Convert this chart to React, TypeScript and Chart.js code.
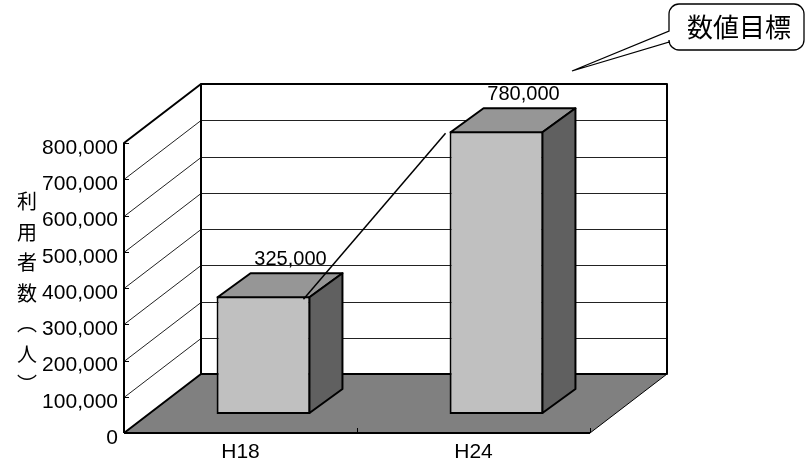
import { useEffect, useRef } from "react";
import { Chart, registerables } from "chart.js";

Chart.register(...registerables);

// ---- data ----
const categories = ["H18", "H24"];
const users = [325000, 780000];
const valueLabels = ["325,000", "780,000"];
const yTickValues = [0, 100000, 200000, 300000, 400000, 500000, 600000, 700000, 800000];
const yTitleChars = ["利", "用", "者", "数", "︵", "人", "︶"];
const calloutText = "数値目標";

// ---- 3D geometry / style ----
const WALL_DX = 77;
const WALL_DY = -59;
const BAR_OX = 23;
const BAR_OY = -19;
const BAR_DX = 33;
const BAR_DY = -24;
const NUM_FONT = '"Liberation Sans", Arial, sans-serif';
const CJK_FONT = '"Noto Sans CJK JP", "Noto Sans CJK SC", sans-serif';

const threeDPlugin = {
  id: "threeD",
  beforeDatasetsDraw(chart: any) {
    const { ctx, chartArea: ca, scales } = chart;
    const ys = scales.y;
    const L = ca.left;
    const R = ca.right;
    const y0 = ys.getPixelForValue(yTickValues[0]);
    const yT = ys.getPixelForValue(yTickValues[yTickValues.length - 1]);
    ctx.save();
    ctx.lineJoin = "round";
    // floor
    ctx.beginPath();
    ctx.moveTo(L, y0);
    ctx.lineTo(R, y0);
    ctx.lineTo(R + WALL_DX, y0 + WALL_DY);
    ctx.lineTo(L + WALL_DX, y0 + WALL_DY);
    ctx.closePath();
    ctx.fillStyle = "#808080";
    ctx.fill();
    ctx.strokeStyle = "#000";
    ctx.lineWidth = 1;
    ctx.stroke();
    // back wall
    ctx.fillStyle = "#fff";
    ctx.fillRect(L + WALL_DX, yT + WALL_DY, R - L, y0 - yT);
    // left wall
    ctx.beginPath();
    ctx.moveTo(L, y0);
    ctx.lineTo(L, yT);
    ctx.lineTo(L + WALL_DX, yT + WALL_DY);
    ctx.lineTo(L + WALL_DX, y0 + WALL_DY);
    ctx.closePath();
    ctx.fill();
    // gridlines
    ctx.lineWidth = 1;
    ctx.strokeStyle = "#222";
    yTickValues.slice(1, -1).forEach((v) => {
      const py = Math.round(ys.getPixelForValue(v)) + 0.5;
      ctx.beginPath();
      ctx.moveTo(L, py);
      ctx.lineTo(L + WALL_DX, py + WALL_DY);
      ctx.lineTo(R + WALL_DX, py + WALL_DY);
      ctx.stroke();
    });
    // y ticks (inward)
    ctx.strokeStyle = "#000";
    yTickValues.forEach((v) => {
      const py = Math.round(ys.getPixelForValue(v)) + 0.5;
      ctx.beginPath();
      ctx.moveTo(L, py);
      ctx.lineTo(L + 5, py);
      ctx.stroke();
    });
    // x ticks (upward)
    const xs = scales.x;
    const bounds = [L, (xs.getPixelForValue(0) + xs.getPixelForValue(1)) / 2, R];
    bounds.forEach((bx) => {
      ctx.beginPath();
      ctx.moveTo(Math.round(bx) + 0.5, y0);
      ctx.lineTo(Math.round(bx) + 0.5, y0 - 5);
      ctx.stroke();
    });
    // outlines
    ctx.lineWidth = 2;
    ctx.strokeStyle = "#000";
    ctx.strokeRect(L + WALL_DX, yT + WALL_DY, R - L, y0 - yT);
    ctx.beginPath();
    ctx.moveTo(L, y0);
    ctx.lineTo(L, yT);
    ctx.lineTo(L + WALL_DX, yT + WALL_DY);
    ctx.moveTo(L, y0);
    ctx.lineTo(L + WALL_DX, y0 + WALL_DY);
    ctx.moveTo(L, y0);
    ctx.lineTo(R, y0);
    ctx.stroke();
    ctx.restore();
    // shift bars into depth
    ctx.save();
    ctx.translate(BAR_OX, BAR_OY);
  },
  afterDatasetsDraw(chart: any) {
    const { ctx } = chart;
    const meta = chart.getDatasetMeta(0);
    const geo: any[] = [];
    ctx.lineJoin = "round";
    meta.data.forEach((bar: any, i: number) => {
      const p = bar.getProps(["x", "y", "base", "width"], true);
      const l = p.x - p.width / 2 + 1;
      const r = p.x + p.width / 2 - 1;
      const t = p.y + 1;
      const b = p.base - 1;
      // top face
      ctx.beginPath();
      ctx.moveTo(l, t);
      ctx.lineTo(r, t);
      ctx.lineTo(r + BAR_DX, t + BAR_DY);
      ctx.lineTo(l + BAR_DX, t + BAR_DY);
      ctx.closePath();
      ctx.fillStyle = "#969696";
      ctx.fill();
      ctx.lineWidth = 2;
      ctx.strokeStyle = "#000";
      ctx.stroke();
      // side face
      ctx.beginPath();
      ctx.moveTo(r, t);
      ctx.lineTo(r + BAR_DX, t + BAR_DY);
      ctx.lineTo(r + BAR_DX, b + BAR_DY);
      ctx.lineTo(r, b);
      ctx.closePath();
      ctx.fillStyle = "#606060";
      ctx.fill();
      ctx.stroke();
      geo.push({ l, r, t, x: p.x });
      // value label
      ctx.fillStyle = "#000";
      ctx.font = `20px ${NUM_FONT}`;
      ctx.textAlign = "center";
      ctx.textBaseline = "alphabetic";
      ctx.fillText(valueLabels[i], p.x + 27, t + BAR_DY - 8);
    });
    // connector line from first to second bar
    if (geo.length > 1) {
      ctx.beginPath();
      ctx.moveTo(geo[0].r - 6, geo[0].t + 2);
      ctx.lineTo(geo[1].l - 5, geo[1].t + 1);
      ctx.lineWidth = 1.5;
      ctx.strokeStyle = "#000";
      ctx.stroke();
    }
    ctx.restore();
  },
  afterDraw(chart: any) {
    const { ctx, chartArea: ca } = chart;
    ctx.save();
    // vertical y-axis title
    ctx.fillStyle = "#000";
    ctx.font = `20px ${CJK_FONT}`;
    ctx.textAlign = "center";
    ctx.textBaseline = "middle";
    const mid = (ca.top + ca.bottom) / 2 + 5;
    const step = 30.5;
    yTitleChars.forEach((c, i) => {
      ctx.fillText(c, 27, mid + (i - (yTitleChars.length - 1) / 2) * step);
    });
    // callout
    const x0 = 669, y0 = 4, x1 = 804, y1 = 50, r = 10;
    ctx.beginPath();
    ctx.moveTo(x0 + r, y0);
    ctx.lineTo(x1 - r, y0);
    ctx.arcTo(x1, y0, x1, y0 + r, r);
    ctx.lineTo(x1, y1 - r);
    ctx.arcTo(x1, y1, x1 - r, y1, r);
    ctx.lineTo(x0 + r, y1);
    ctx.arcTo(x0, y1, x0, y1 - r, r);
    ctx.lineTo(x0, 42);
    ctx.lineTo(572, 71);
    ctx.lineTo(x0, 31);
    ctx.lineTo(x0, y0 + r);
    ctx.arcTo(x0, y0, x0 + r, y0, r);
    ctx.closePath();
    ctx.fillStyle = "#fff";
    ctx.fill();
    ctx.lineWidth = 1.3;
    ctx.strokeStyle = "#000";
    ctx.stroke();
    ctx.fillStyle = "#000";
    ctx.font = `26px ${CJK_FONT}`;
    ctx.fillText(calloutText, 739, 27);
    ctx.restore();
  },
};

export default function App() {
  const canvasRef = useRef<HTMLCanvasElement | null>(null);

  useEffect(() => {
    document.body.style.margin = "0";
    const canvas = canvasRef.current;
    if (!canvas) return;
    const chart = new Chart(canvas, {
      type: "bar",
      data: {
        labels: categories,
        datasets: [
          {
            label: "利用者数（人）",
            data: users,
            backgroundColor: "#C0C0C0",
            borderColor: "#000",
            borderWidth: 2,
            borderSkipped: false,
            categoryPercentage: 1,
            barPercentage: 0.403,
            clip: false as any,
          },
        ],
      },
      options: {
        animation: false,
        responsive: false,
        devicePixelRatio: 1,
        layout: { padding: { top: 143, right: 216, left: 0, bottom: 0 } },
        plugins: {
          legend: { display: false },
          tooltip: { enabled: false },
          title: { display: false },
        },
        scales: {
          x: {
            grid: { display: false, drawTicks: false },
            border: { display: false },
            ticks: {
              color: "#000",
              font: { family: NUM_FONT, size: 21 },
              padding: 7,
            },
            afterFit: (s: any) => {
              s.height = 32;
            },
          },
          y: {
            min: 0,
            max: 800000,
            grid: { display: false, drawTicks: false },
            border: { display: false },
            ticks: {
              color: "#000",
              font: { family: NUM_FONT, size: 21 },
              padding: 6,
              labelOffset: 5,
              callback: (v: any) => Number(v).toLocaleString("en-US"),
            },
            afterBuildTicks: (s: any) => {
              s.ticks = yTickValues.map((v) => ({ value: v }));
            },
            afterFit: (s: any) => {
              s.width = 124;
            },
          },
        },
      },
      plugins: [threeDPlugin],
    });
    return () => chart.destroy();
  }, []);

  return (
    <div style={{ position: "absolute", left: 0, top: 0, width: 806, height: 465 }}>
      <canvas ref={canvasRef} width={806} height={465} style={{ display: "block" }} />
    </div>
  );
}
